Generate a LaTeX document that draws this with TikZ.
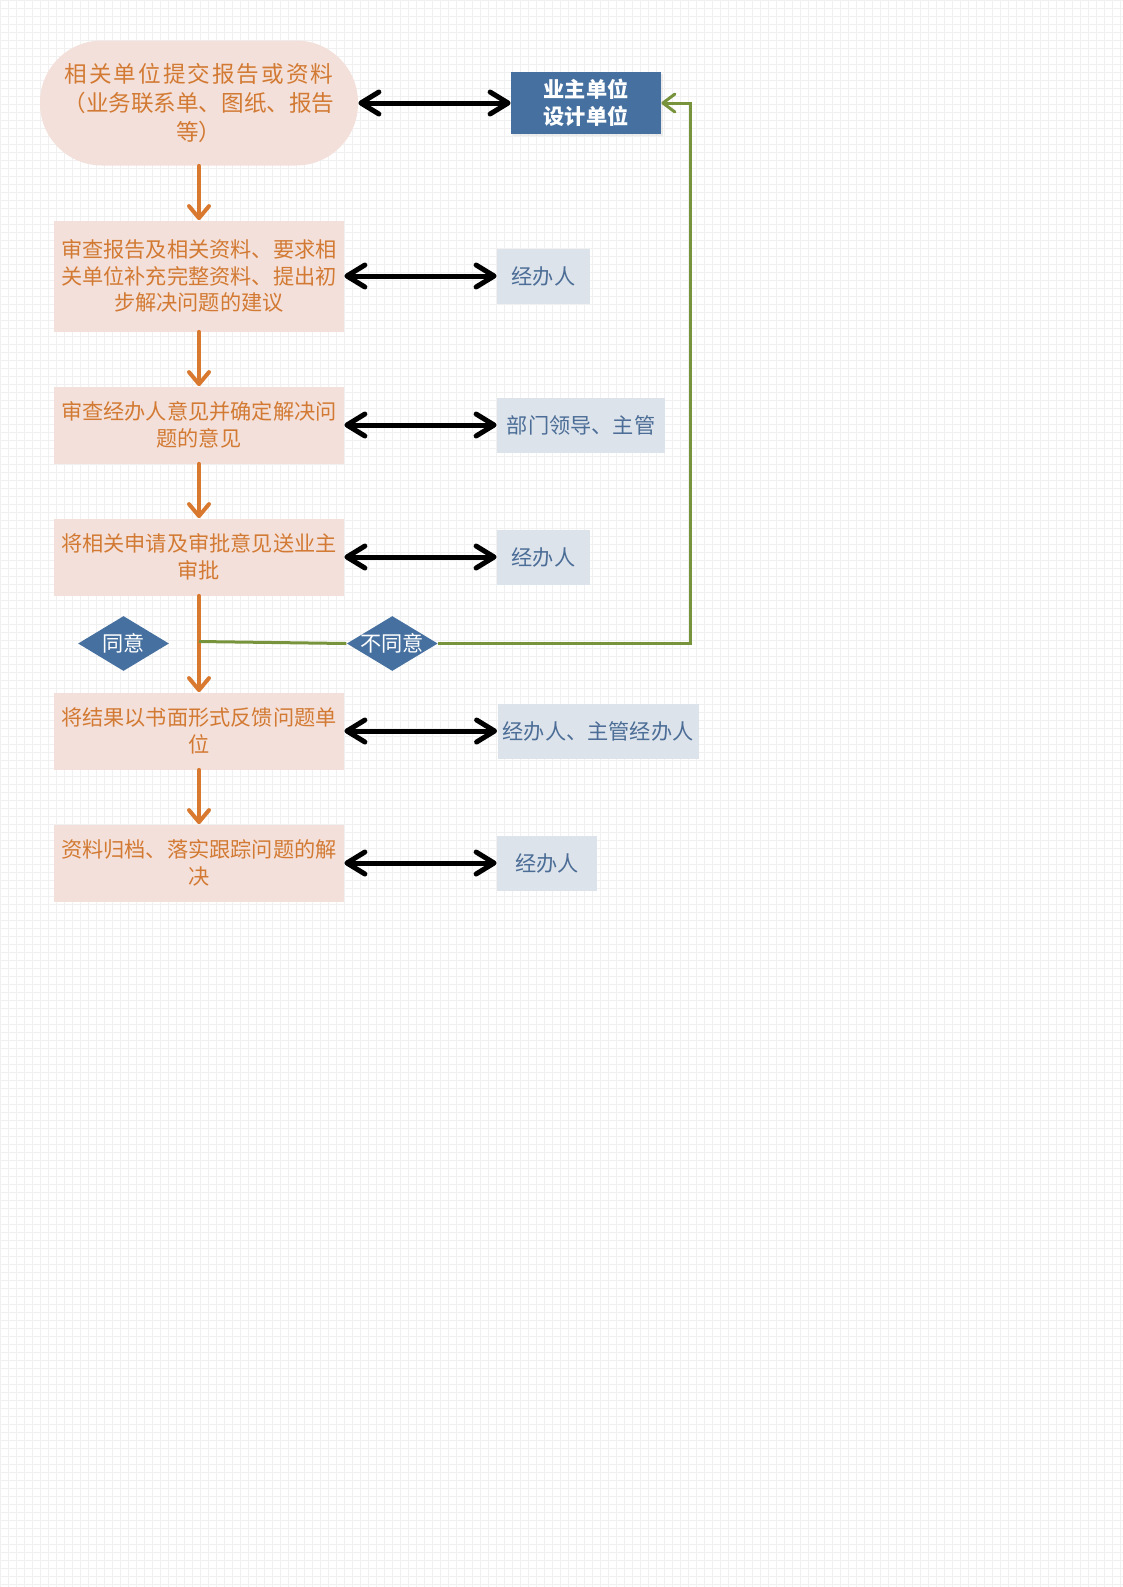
\documentclass[tikz,border=0pt]{standalone}
\usepackage{fontspec}
\newfontfamily\cjk{Noto Sans CJK SC}
\usepackage{tikz}
\usetikzlibrary{arrows.meta,shapes,shadows,calc}
\definecolor{stepfill}{HTML}{F4E0DA}
\definecolor{steptext}{HTML}{D27A33}
\definecolor{flowline}{HTML}{D8792F}
\definecolor{ownerfill}{HTML}{45709F}
\definecolor{personfill}{HTML}{DCE3EB}
\definecolor{persontext}{HTML}{4C6D96}
\definecolor{rejectline}{HTML}{77933C}
\definecolor{gridline}{HTML}{F0F0F0}

\begin{document}
\begin{tikzpicture}[x=0.5pt, y=-0.5pt, node distance=66pt]
\tikzstyle{main}=[rectangle, fill=stepfill, text=steptext, align=center, inner sep=0pt, minimum width=145pt, minimum height=38.5pt, font=\cjk\fontsize{10.6pt}{13.25pt}\selectfont]
\tikzstyle{start}=[main, rounded corners=31pt, minimum width=159pt, minimum height=62.5pt, font=\cjk\fontsize{11.3pt}{14.5pt}\selectfont]
\tikzstyle{person}=[main, fill=personfill, text=persontext, minimum width=46.5pt, minimum height=27.5pt]
\tikzstyle{owner}=[main, fill=ownerfill, text=white, minimum width=75pt, minimum height=31pt, font=\cjk\bfseries\fontsize{10.6pt}{13.3pt}\selectfont, drop shadow={shadow xshift=1pt, shadow yshift=-1pt, fill=black!15, opacity=0.5}]
\tikzstyle{dmd}=[diamond, fill=ownerfill, inner sep=0pt, minimum width=45.5pt, minimum height=27.5pt]
\tikzstyle{dmdtext}=[text=white, inner sep=0pt, font=\cjk\fontsize{10.6pt}{13pt}\selectfont]
\tikzstyle{flow}=[-{Straight Barb[length=6pt,width=10pt,round]}, line width=2pt, draw=flowline, line cap=round]
\tikzstyle{dbl}=[{Straight Barb[length=9pt,width=11pt,round]}-{Straight Barb[length=9pt,width=11pt,round]}, line width=2.5pt, draw=black, line cap=round]
\tikzstyle{reject}=[line width=1.5pt, draw=rejectline]

  \useasboundingbox (0,0) rectangle (1123,1587);
  \draw[gridline, line width=0.5pt, step=4pt] (0,0) grid (1123,1587);

  % main chain
  \node[start] (submit) at (199,103) {{\addfontfeature{LetterSpace=9}相关单位提交报告或资料}\\（业务联系单、图纸、报告\\等）};
  \node[main] (review)  [below of =submit, yshift=-20.5pt, minimum height=55.5pt] {审查报告及相关资料、要求相\\关单位补充完整资料、提出初\\步解决问题的建议};
  \node[main] (check)   [below of =review, yshift=-8.5pt]  {审查经办人意见并确定解决问\\题的意见};
  \node[main] (approve) [below of =check]                  {将相关申请及审批意见送业主\\审批};
  \node[main] (reply)   [below of =approve, yshift=-21pt]  {将结果以书面形式反馈问题单\\位};
  \node[main] (archive) [below of =reply]                  {资料归档、落实跟踪问题的解\\决};

  % who is involved
  \node[owner]  (owner)   [right of =submit,  xshift=127.5pt]  {业主单位\\设计单位};
  \node[person] (clerkA)  [right of =review,  xshift=106.25pt] {经办人};
  \node[person] (leader)  [right of =check,   xshift=125pt, minimum width=84pt] {部门领导、主管};
  \node[person] (clerkB)  [right of =approve, xshift=106.25pt] {经办人};
  \node[person] (clerkC)  [right of =reply,   xshift=133.5pt, minimum width=100.5pt] {经办人、主管经办人};
  \node[person] (clerkD)  [right of =archive, xshift=108pt, minimum width=50pt] {经办人};

  % decision
  \node[dmd, label={[dmdtext]center:同意}]   (agree)    [below of =approve, xshift=-37.75pt, yshift=22.75pt] {};
  \node[dmd, label={[dmdtext]center:不同意}] (disagree) [below of =approve, xshift=96.65pt, yshift=22.75pt] {};
  \coordinate (split) at ([yshift=1pt]agree.center -| approve.center);
  \coordinate (back)  at ([xshift=14.3pt]owner.east);

  \path (submit)  edge [flow] (review);
  \path (review)  edge [flow] (check);
  \path (check)   edge [flow] (approve);
  \path (approve) edge [flow] (reply);
  \path (reply)   edge [flow] (archive);

  \path (submit)  edge [dbl] (owner);
  \path (review)  edge [dbl] (clerkA);
  \path (check)   edge [dbl] (leader);
  \path (approve) edge [dbl] (clerkB);
  \path (reply)   edge [dbl] (clerkC);
  \path (archive) edge [dbl] (clerkD);

  \draw[reject] (split) -- (disagree.west);
  \draw[reject, -{Straight Barb[length=6pt,width=9pt,round]}] (disagree.east) -| (back) -- (owner.east);

\end{tikzpicture}
\end{document}
